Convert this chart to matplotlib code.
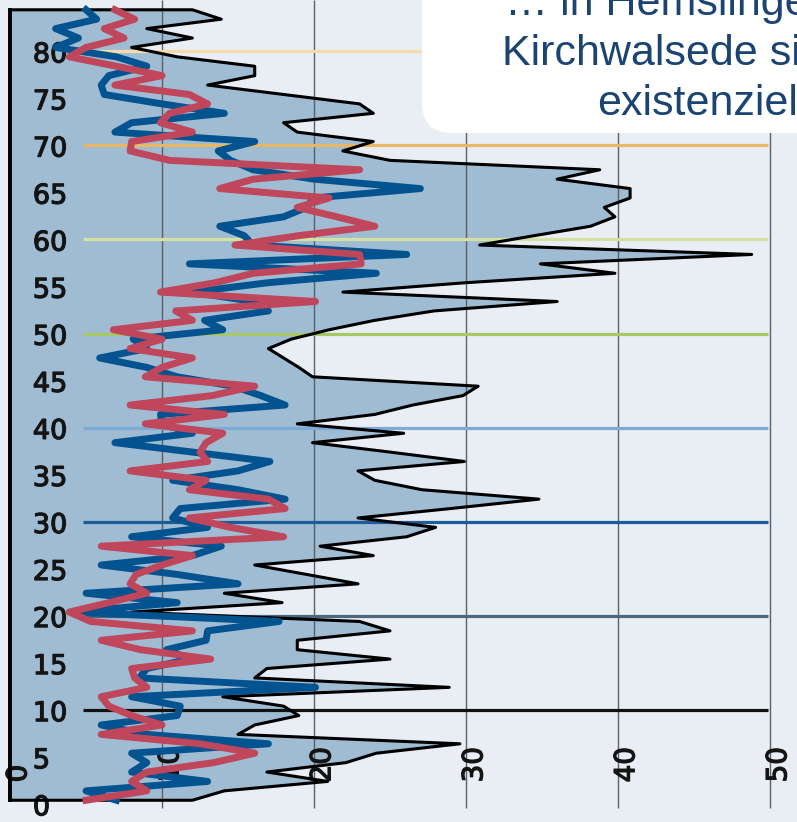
import numpy as np
import matplotlib
matplotlib.use("Agg")
from matplotlib import pyplot as plt
from matplotlib import patheffects as pe
from matplotlib.patches import FancyBboxPatch
from matplotlib.transforms import IdentityTransform

# population per age (0..84)
ages = np.arange(0, 85)

total = [12.0, 14.1, 20.9, 16.9, 22.1, 24.1, 29.6, 15.0, 16.1, 19.0,
         18.0, 14.0, 28.9, 16.1, 16.9, 25.0, 18.9, 18.9, 25.0, 23.0,
         8.0, 17.9, 14.1, 22.9, 19.5, 16.1, 23.9, 20.4, 26.1, 28.0,
         22.9, 29.0, 34.8, 27.1, 24.0, 22.9, 29.9, 25.0, 19.9, 25.9,
         18.9, 24.0, 26.5, 29.8, 30.8, 19.9, 19.0, 18.0, 17.0, 18.5,
         21.0, 24.0, 27.9, 36.0, 21.9, 30.0, 39.8, 34.9, 48.8, 30.9,
         34.5, 38.2, 39.8, 39.1, 40.8, 40.8, 36.0, 38.8, 25.0, 21.9,
         23.9, 18.9, 18.0, 23.9, 23.0, 18.0, 13.0, 16.1, 16.1, 11.0,
         8.0, 12.0, 9.0, 13.9, 12.0]

male = [7, 5, 13, 8, 9, 8, 17, 9, 6, 11,
        11.2, 8, 20.1, 8.5, 9, 11.8, 10.3, 12.9, 13, 17.7,
        4.1, 11, 5, 15, 11, 6, 12, 13.9, 8, 13,
        10.7, 11.2, 18.1, 15, 10.7, 15, 17.1, 12, 6.9, 12,
        10, 9.9, 18.1, 16.5, 14.7, 11, 9, 5.9, 9, 8.1,
        14, 12.8, 17, 16, 12, 17, 24.1, 11.8, 26.1, 16,
        15.4, 13.8, 18, 19.5, 20, 27, 20, 16, 14.5, 13.7,
        16.1, 6.9, 8, 14.1, 10, 6.2, 6, 6.5, 9, 7,
        3, 4.5, 3, 5.7, 5]

female = [5, 9, 8, 9, 13.4, 16.1, 12.5, 6, 10, 8,
          6.5, 6, 9, 8.2, 8, 13.2, 8.6, 6, 12, 5.3,
          3.9, 6.5, 9, 7.9, 8.3, 10, 12, 6, 18, 14.5,
          11.8, 18.1, 17, 11.8, 12.9, 7.9, 13, 12.5, 12.9, 14,
          8.9, 14.1, 7.9, 13.3, 16.1, 8.9, 10, 12, 7.9, 10,
          6.8, 12, 10.9, 20.1, 9.9, 13.5, 16, 23.1, 23, 14.8,
          19, 24, 21.5, 18.9, 21, 13.8, 16, 23, 10.5, 7.9,
          8, 12, 9.9, 10.5, 13, 11.8, 6.9, 10, 7, 3.9,
          5, 7.5, 6.2, 8.2, 6.9]

decades = [10, 20, 30, 40, 50, 60, 70, 80]
decade_colors = ["#111111", "#4d6780", "#1b5d98", "#7eaad6",
                 "#a6c865", "#d4e1a3", "#e8b866", "#f4dca8"]
y_ticks = [0, 5, 10, 15, 20, 25, 30, 35, 40, 45, 50, 55, 60, 65, 70, 75, 80]
x_ticks = [0, 10, 20, 30, 40, 50]

note_lines = ["\u2026 in Hemslingen und", "Kirchwalsede sind", "existenziell"]

bg = "#e9eef5"
fill_col = "#9fbcd3"
blue = "#02538f"
red = "#bf465b"
text_blue = "#1b4473"
label_col = "#141414"

fig = plt.figure(figsize=(7.97, 8.22), dpi=100)
fig.patch.set_facecolor(bg)
ax = fig.add_axes([0, 0, 1, 1])
ax.set_facecolor(bg)
ax.set_xlim(-0.66, 51.78)
ax.set_ylim(-1.91, 85.44)
ax.axis("off")

y = ages + 0.4  # each year sits a bit above its gridline

# total as a closed outline against the age axis
poly_x = [0] + list(total) + [0, 0]
poly_y = [y[0]] + list(y) + [y[-1], y[0]]
ax.fill(poly_x, poly_y, color=fill_col, lw=0, zorder=1)

# vertical grid
ax.vlines(x_ticks[1:], -0.45, 85.4, color="#5b5f66", lw=1.0, zorder=2)

# tick labels drawn inside the plot, slightly heavier than regular
thick = [pe.withStroke(linewidth=0.9, foreground=label_col)]
for t in y_ticks:
    ax.text(1.5, t - 0.45, str(t), ha="left", va="center", fontsize=19.5,
            color=label_col, zorder=3, path_effects=thick)
for t in x_ticks:
    ax.text(t + 0.55, 2.3, str(t), ha="center", va="bottom", rotation=90,
            fontsize=20, color=label_col, zorder=3, path_effects=thick)

ax.hlines(decades, 4.8, 49.9, colors=decade_colors, lw=2.3, zorder=4)

ax.plot(poly_x, poly_y, color="black", lw=2.2, zorder=5)
ax.plot([0, 0], [y[0], y[-1]], color="black", lw=2.8, zorder=5)

ax.plot(male, y, color=blue, lw=5.0, zorder=6)
ax.plot(female, y, color=red, lw=5.0, zorder=7)

# callout box, cut by the frame
H = 822
box = FancyBboxPatch((422, H - 133), 500, 300,
                     boxstyle="round,pad=0,rounding_size=30",
                     transform=IdentityTransform(), fc="white", ec="none",
                     zorder=10, clip_on=False)
fig.patches.append(box)
starts = [505, 502, 597]
baselines = [15, 65, 115]
for line, x0, b in zip(note_lines, starts, baselines):
    fig.text(x0, H - b, line, transform=IdentityTransform(), ha="left",
             va="baseline", fontsize=31, family="Liberation Sans",
             color=text_blue, zorder=11)

fig.savefig("out.png", dpi=100, facecolor=bg)
